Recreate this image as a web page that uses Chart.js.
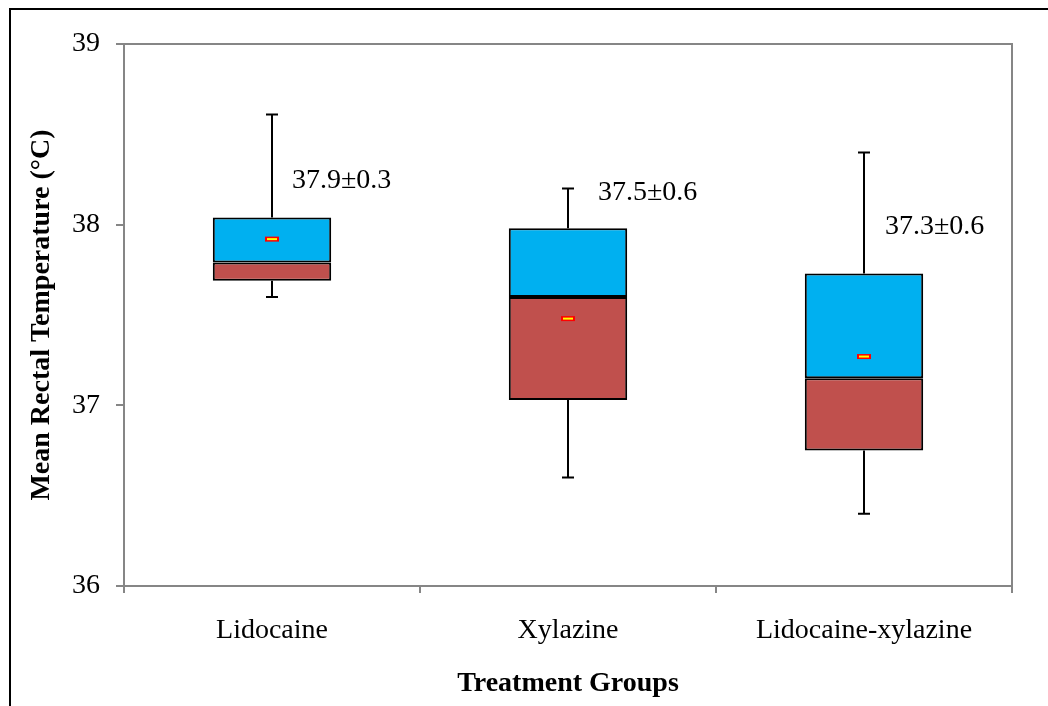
<!DOCTYPE html>
<html>
<head>
<meta charset="utf-8">
<style>
  html, body { margin: 0; padding: 0; background: #ffffff; }
  canvas { display: block; }
</style>
<script src="https://cdn.jsdelivr.net/npm/chart.js@4/dist/chart.umd.min.js"></script>
</head>
<body>
<canvas id="chart" width="1048" height="706"></canvas>
<script>
// ---- Data ----
const categories   = ['Lidocaine', 'Xylazine', 'Lidocaine-xylazine'];
const minValues    = [37.60, 36.60, 36.40];
const q1Values     = [37.69, 37.03, 36.75];
const medianValues = [37.79, 37.60, 37.15];
const q3Values     = [38.04, 37.98, 37.73];
const maxValues    = [38.61, 38.20, 38.40];
const meanValues   = [37.92, 37.48, 37.27];
const sdValues     = [0.3, 0.6, 0.6];
const yTicks       = [36, 37, 38, 39];

// ---- Styles ----
const FONT = '"Liberation Serif", "Times New Roman", serif';
const FONT_SIZE = 28;
const AXIS_GRAY = '#868686';
const BLUE = '#00B0F0';
const RED = '#C0504D';
const labelOffsets = [{dx: 20, dy: -37}, {dx: 30, dy: -36}, {dx: 21, dy: -47}];

const lowerBox = categories.map((c, i) => [q1Values[i], medianValues[i]]);
const upperBox = categories.map((c, i) => [medianValues[i], q3Values[i]]);

const decorPlugin = {
  id: 'decor',
  beforeDatasetsDraw(chart) {
    const {ctx, scales: {x, y}} = chart;
    ctx.save();
    ctx.strokeStyle = '#000000';
    ctx.lineWidth = 2;
    categories.forEach((c, i) => {
      const cx = Math.round(x.getPixelForValue(i));
      const yMax = y.getPixelForValue(maxValues[i]);
      const yMin = y.getPixelForValue(minValues[i]);
      const yQ3 = y.getPixelForValue(q3Values[i]);
      const yQ1 = y.getPixelForValue(q1Values[i]);
      ctx.beginPath();
      ctx.moveTo(cx, yMax); ctx.lineTo(cx, yQ3);
      ctx.moveTo(cx, yQ1); ctx.lineTo(cx, yMin);
      ctx.moveTo(cx - 6, yMax); ctx.lineTo(cx + 6, yMax);
      ctx.moveTo(cx - 6, yMin); ctx.lineTo(cx + 6, yMin);
      ctx.stroke();
    });
    ctx.restore();
  },
  afterDatasetsDraw(chart) {
    const {ctx, chartArea, scales: {x, y}} = chart;
    ctx.save();
    // mean markers
    categories.forEach((c, i) => {
      const cx = x.getPixelForValue(i);
      const my = y.getPixelForValue(meanValues[i]);
      ctx.fillStyle = '#FF0000';
      ctx.fillRect(cx - 7, my - 2.5, 14, 5);
      ctx.fillStyle = '#FFFF00';
      ctx.fillRect(cx - 5, my - 1, 10, 2);
    });
    // mean ± sd labels
    ctx.fillStyle = '#000000';
    ctx.font = FONT_SIZE + 'px ' + FONT;
    ctx.textAlign = 'left';
    ctx.textBaseline = 'middle';
    categories.forEach((c, i) => {
      const cx = x.getPixelForValue(i);
      const ty = y.getPixelForValue(q3Values[i]);
      const txt = meanValues[i].toFixed(1) + '\u00B1' + sdValues[i].toFixed(1);
      ctx.fillText(txt, cx + labelOffsets[i].dx, ty + labelOffsets[i].dy);
    });
    // plot-area top and right borders
    ctx.strokeStyle = AXIS_GRAY;
    ctx.lineWidth = 2;
    ctx.beginPath();
    ctx.moveTo(chartArea.left, chartArea.top);
    ctx.lineTo(chartArea.right, chartArea.top);
    ctx.lineTo(chartArea.right, chartArea.bottom);
    ctx.stroke();
    ctx.restore();
  },
  afterDraw(chart) {
    const {ctx, width, height} = chart;
    ctx.save();
    ctx.strokeStyle = '#000000';
    ctx.lineWidth = 2;
    ctx.beginPath();
    ctx.moveTo(10, height);
    ctx.lineTo(10, 9);
    ctx.lineTo(width, 9);
    ctx.stroke();
    ctx.restore();
  }
};

new Chart(document.getElementById('chart'), {
  type: 'bar',
  data: {
    labels: categories,
    datasets: [
      {
        label: 'Q1 to median',
        data: lowerBox,
        backgroundColor: RED,
        borderColor: '#000000',
        borderWidth: 2,
        borderSkipped: false,
        grouped: false,
        barPercentage: 0.4,
        categoryPercentage: 1.0
      },
      {
        label: 'Median to Q3',
        data: upperBox,
        backgroundColor: BLUE,
        borderColor: '#000000',
        borderWidth: 2,
        borderSkipped: false,
        grouped: false,
        barPercentage: 0.4,
        categoryPercentage: 1.0
      }
    ]
  },
  options: {
    responsive: false,
    animation: false,
    devicePixelRatio: 1,
    layout: { padding: { left: 0, top: 44, right: 36, bottom: 0 } },
    plugins: {
      legend: { display: false },
      tooltip: { enabled: false }
    },
    scales: {
      x: {
        afterFit(scale) { scale.height = 120; },
        grid: {
          display: true,
          drawOnChartArea: false,
          drawTicks: true,
          tickLength: 7,
          color: AXIS_GRAY,
          lineWidth: 2,
          offset: true
        },
        border: { display: true, color: AXIS_GRAY, width: 2 },
        ticks: {
          color: '#000000',
          font: { family: FONT, size: FONT_SIZE },
          padding: 21,
          maxRotation: 0
        },
        title: {
          display: true,
          text: 'Treatment Groups',
          color: '#000000',
          font: { family: FONT, size: FONT_SIZE, weight: 'bold' },
          padding: { top: 0, bottom: 5 }
        }
      },
      y: {
        min: 36,
        max: 39,
        afterFit(scale) { scale.width = 124; },
        afterBuildTicks(scale) { scale.ticks = yTicks.map(v => ({ value: v })); },
        grid: {
          display: true,
          drawOnChartArea: false,
          drawTicks: true,
          tickLength: 8,
          color: AXIS_GRAY,
          lineWidth: 2
        },
        border: { display: true, color: AXIS_GRAY, width: 2 },
        ticks: {
          color: '#000000',
          font: { family: FONT, size: FONT_SIZE },
          padding: 16,
          callback: v => String(v)
        },
        title: {
          display: true,
          text: 'Mean Rectal Temperature (\u00B0C)',
          color: '#000000',
          font: { family: FONT, size: FONT_SIZE, weight: 'bold' },
          padding: { top: 25, bottom: 0 }
        }
      }
    }
  },
  plugins: [decorPlugin]
});
</script>
</body>
</html>
